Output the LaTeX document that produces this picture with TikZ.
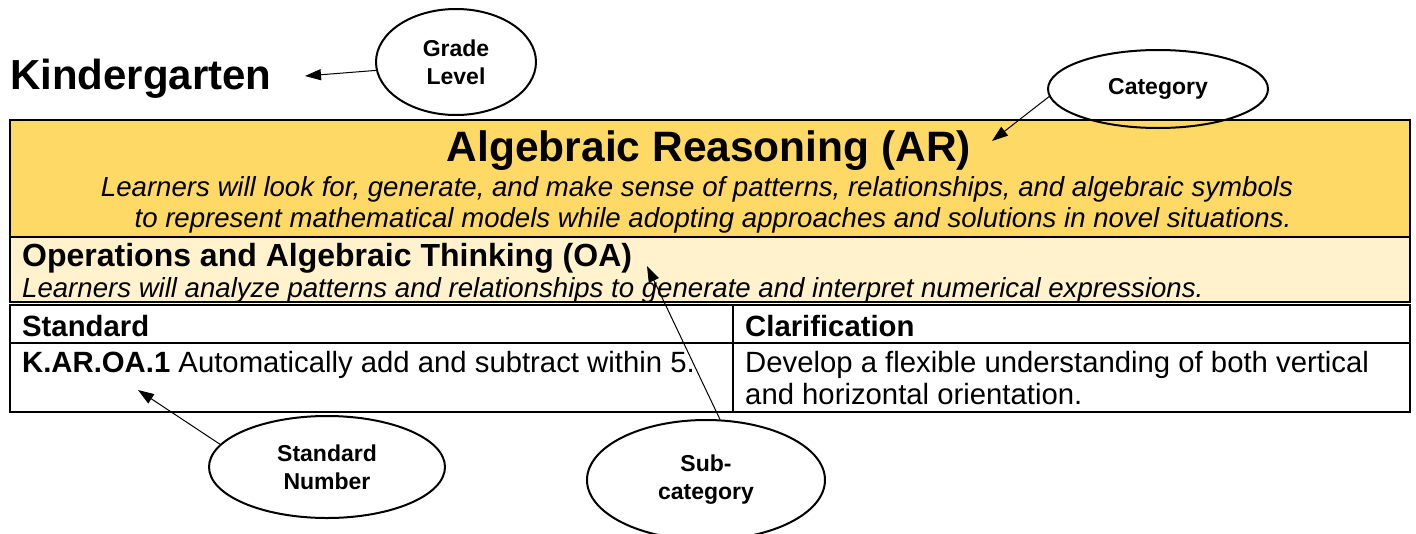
\documentclass[tikz,border=0pt]{standalone}
\usepackage{fontspec}
\setmainfont{Liberation Sans}
\usetikzlibrary{shapes.geometric,arrows.meta}
\definecolor{arfill}{HTML}{FFD966}
\definecolor{oafill}{HTML}{FFF2CC}
\begin{document}
\begin{tikzpicture}[x=1pt,y=-1pt,
  ell/.style={ellipse,draw,line width=2pt,inner sep=0pt,align=center,
    font=\fontsize{23}{28}\selectfont\bfseries},
  arr/.style={-{Triangle[length=16pt,width=11pt]},line width=1pt},
  frame/.style={line width=2.4pt},
  txt/.style={inner sep=0pt,anchor=base west},
  ctxt/.style={inner sep=0pt,anchor=base},
  body/.style={font=\fontsize{29.3}{35}\selectfont},
  bodyb/.style={font=\fontsize{29.3}{35}\selectfont\bfseries},
  desc/.style={font=\fontsize{27.6}{33}\selectfont\itshape}]
\useasboundingbox (0,0) rectangle (1416,533);
% bands
\fill[arfill] (10,120) rectangle (1410,237);
\fill[oafill] (10,237) rectangle (1410,302);
\draw[frame] (10,120) rectangle (1410,302);
\draw[frame] (10,237) -- (1410,237);
% table
\draw[frame] (10,305) rectangle (1410,412);
\draw[frame] (10,343) -- (1410,343);
\draw[frame] (733,305) -- (733,412);
% texts
\node[txt,font=\fontsize{42}{50}\selectfont\bfseries] (kg) at (10,89) {Kindergarten};
\node[ctxt,font=\fontsize{42.5}{50}\selectfont\bfseries] (ar) at (709,161) {Algebraic Reasoning (AR)};
\node[ctxt,desc] (ard1) at (697,196) {Learners will look for, generate, and make sense of patterns, relationships, and algebraic symbols};
\node[ctxt,desc] (ard2) at (713,227) {to represent mathematical models while adopting approaches and solutions in novel situations.};
\node[txt,font=\fontsize{32}{38}\selectfont\bfseries] (oa) at (22,266) {Operations and Algebraic Thinking (OA)};
\node[txt,desc] (oad) at (22,297) {Learners will analyze patterns and relationships to generate and interpret numerical expressions.};
\node[txt,bodyb] (std) at (22,336) {Standard};
\node[txt,bodyb] (clar) at (745,336) {Clarification};
\node[txt,body] (kar) at (22,372) {\textbf{K.AR.OA.1} Automatically add and subtract within 5.};
\node[txt,body] (dev1) at (745,372) {Develop a flexible understanding of both vertical};
\node[txt,body] (dev2) at (745,404) {and horizontal orientation.};
% callout ellipses
\node[ell,minimum width=160pt,minimum height=106pt] (gl) at (456,62) {Grade\\Level};
\node[ell,minimum width=220pt,minimum height=78pt] (cat) at (1158,89) {Category};
\node[ell,minimum width=236pt,minimum height=102pt] (sn) at (327,467) {Standard\\Number};
\node[ell,minimum width=238pt,minimum height=120pt] (sub) at (706,480) {Sub-\\category};
% arrow targets
\coordinate (kgT) at (305,76);
\coordinate (arT) at (992,141);
\coordinate (snT) at (138,390);
\coordinate (subT) at (647,266);
\draw[arr] (gl.186) -- (kgT);
\draw[arr] (cat.184) -- (arT);
\draw[arr] (sn.168) -- (snT);
\draw[arr] (sub.77) -- (subT);
\end{tikzpicture}
\end{document}
